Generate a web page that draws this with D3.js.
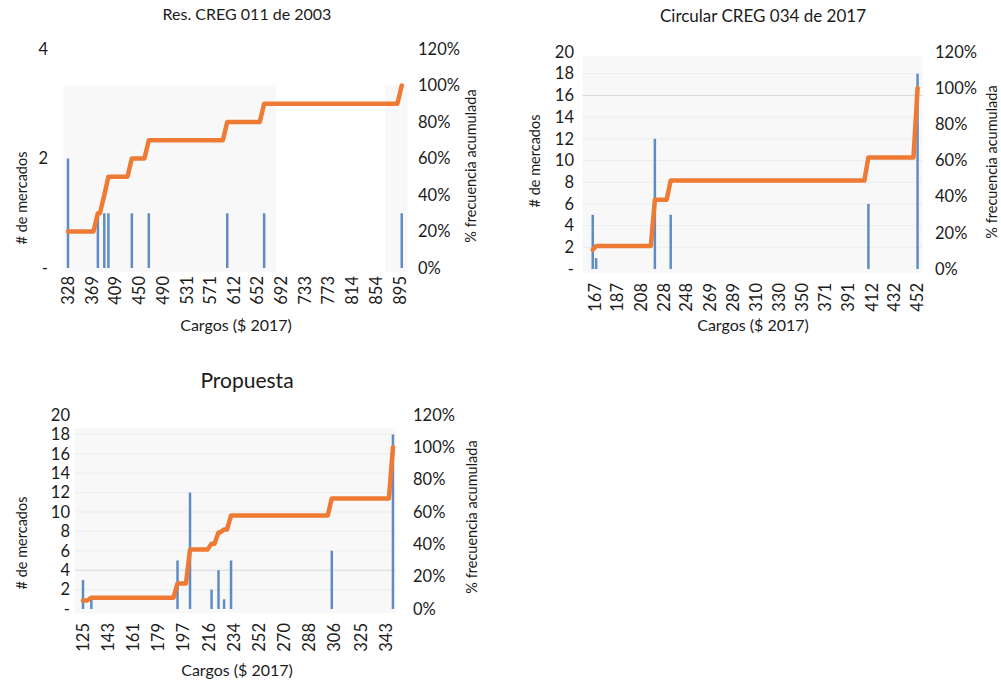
<!DOCTYPE html>
<html>
<head>
<meta charset="utf-8">
<script src="https://cdn.jsdelivr.net/npm/d3@7"></script>
<style>
  html, body { margin: 0; padding: 0; background: #fff; }
  svg { display: block; font-family: Lato, "Open Sans", sans-serif; }
</style>
</head>
<body>
<svg id="chart" width="1001" height="682"></svg>
<script>
// Res. CREG 011 de 2003
const titulo1 = "Res. CREG 011 de 2003";
const ticks1 = [328, 369, 409, 450, 490, 531, 571, 612, 652, 692, 733, 773, 814, 854, 895];
const cargos1 = [328, 379, 390, 397, 437, 466, 600, 663, 898];
const mercados1 = [2, 1, 1, 1, 1, 1, 1, 1, 1];
const ejeIzq1 = [0, 2, 4];

// Circular CREG 034 de 2017
const titulo2 = "Circular CREG 034 de 2017";
const ticks2 = [167, 187, 208, 228, 248, 269, 289, 310, 330, 350, 371, 391, 412, 432, 452];
const cargos2 = [165, 168, 220, 234, 409, 452.5];
const mercados2 = [5, 1, 12, 5, 6, 18];
const ejeIzq2 = [0, 2, 4, 6, 8, 10, 12, 14, 16, 18, 20];

// Propuesta
const titulo3 = "Propuesta";
const ticks3 = [125, 143, 161, 179, 197, 216, 234, 252, 270, 288, 306, 325, 343];
const cargos3 = [125, 131, 193, 202, 217.5, 222.5, 226.5, 231.5, 304, 348];
const mercados3 = [3, 1, 5, 12, 2, 4, 1, 5, 6, 18];
const ejeIzq3 = [0, 2, 4, 6, 8, 10, 12, 14, 16, 18, 20];

const ejeDer = [0, 0.2, 0.4, 0.6, 0.8, 1.0, 1.2];

const tituloX = "Cargos ($ 2017)";
const tituloIzq = "# de mercados";
const tituloDer = "% frecuencia acumulada";

const svg = d3.select("#chart");
const BLUE = "#5f8cc4";
const ORANGE = "#ee7a33";
const TEXT = "#1b1b1b";
const TICK_FONT = 16.5;

function drawPanel(cfg) {
  const g = svg.append("g");
  const x = d3.scaleLinear().domain([cfg.ticks[0], cfg.ticks[cfg.ticks.length - 1]]).range(cfg.xRange);
  const yL = d3.scaleLinear().domain([0, d3.max(cfg.leftTicks)]).range(cfg.yRange);
  const yR = d3.scaleLinear().domain([0, 1.2]).range(cfg.yRange);

  // faint plot wash
  cfg.wash.forEach(w => {
    g.append("rect")
      .attr("x", x(w[0])).attr("width", x(w[1]) - x(w[0]))
      .attr("y", yR(w[2])).attr("height", yR(0) - yR(w[2]) + 4)
      .attr("fill", "#f8f8f8");
  });

  // faint horizontal grid
  if (cfg.grid) {
    g.append("g").selectAll("line")
      .data(cfg.leftTicks.filter(d => d > 0 && d < d3.max(cfg.leftTicks)))
      .join("line")
      .attr("x1", x(cfg.wash[0][0])).attr("x2", x(cfg.wash[0][1]))
      .attr("y1", d => yL(d)).attr("y2", d => yL(d))
      .attr("stroke", d => d === cfg.strongGrid ? "#d4d8de" : "#ebedf0")
      .attr("stroke-width", 1);
  }

  // bars: number of markets per charge
  const bars = cfg.cargos.map((c, i) => ({ c, n: cfg.mercados[i] }));
  g.append("g").selectAll("line")
    .data(bars)
    .join("line")
    .attr("x1", d => x(d.c)).attr("x2", d => x(d.c))
    .attr("y1", yL(0)).attr("y2", d => yL(d.n))
    .attr("stroke", BLUE).attr("stroke-width", 2.5);

  // cumulative frequency line
  const total = d3.sum(cfg.mercados);
  const cum = d3.cumsum(cfg.mercados).map(v => v / total);
  const pts = [[cfg.cargos[0], cum[0]]];
  for (let i = 1; i < cfg.cargos.length; i++) {
    const start = Math.max(cfg.cargos[i - 1], cfg.cargos[i] - cfg.binWidth);
    pts.push([start, cum[i - 1]]);
    pts.push([cfg.cargos[i], cum[i]]);
  }
  g.append("path")
    .datum(pts)
    .attr("fill", "none")
    .attr("stroke", ORANGE)
    .attr("stroke-width", 4.5)
    .attr("stroke-linejoin", "round")
    .attr("stroke-linecap", "round")
    .attr("d", d3.line().x(d => x(d[0])).y(d => yR(d[1])));

  // left axis labels
  const left = d3.axisLeft(yL).tickValues(cfg.leftTicks)
    .tickFormat(d => d === 0 ? "-" : d3.format("d")(d)).tickSize(0).tickPadding(0);
  const gl = g.append("g").attr("transform", `translate(${cfg.leftLabelX},0)`).call(left);
  gl.select(".domain").remove();
  gl.selectAll("text").attr("font-size", TICK_FONT).attr("fill", TEXT).attr("font-family", "Lato");

  // right axis labels
  const right = d3.axisRight(yR).tickValues(ejeDer)
    .tickFormat(d3.format(".0%")).tickSize(0).tickPadding(0);
  const gr = g.append("g").attr("transform", `translate(${cfg.rightLabelX},0)`).call(right);
  gr.select(".domain").remove();
  gr.selectAll("text").attr("font-size", TICK_FONT).attr("fill", TEXT).attr("font-family", "Lato");

  // x axis labels, rotated
  g.append("g").selectAll("text")
    .data(cfg.ticks)
    .join("text")
    .attr("transform", d => `translate(${x(d)},${cfg.xLabelTop}) rotate(-90)`)
    .attr("text-anchor", "end")
    .attr("dy", "0.35em")
    .attr("font-size", TICK_FONT)
    .attr("fill", TEXT)
    .text(d => d);

  // titles
  g.append("text").attr("x", cfg.title[0]).attr("y", cfg.title[1])
    .attr("text-anchor", "middle").attr("dy", "0.35em")
    .attr("font-size", cfg.titleSize).attr("fill", TEXT).text(cfg.titleText);
  g.append("text").attr("x", cfg.xTitle[0]).attr("y", cfg.xTitle[1])
    .attr("text-anchor", "middle").attr("dy", "0.35em")
    .attr("font-size", 16).attr("fill", TEXT).text(tituloX);
  g.append("text")
    .attr("transform", `translate(${cfg.leftTitle[0]},${cfg.leftTitle[1]}) rotate(-90)`)
    .attr("text-anchor", "middle").attr("dy", "0.35em")
    .attr("font-size", 14.5).attr("fill", TEXT).text(tituloIzq);
  g.append("text")
    .attr("transform", `translate(${cfg.rightTitle[0]},${cfg.rightTitle[1]}) rotate(-90)`)
    .attr("text-anchor", "middle").attr("dy", "0.35em")
    .attr("font-size", 14.5).attr("fill", TEXT).text(tituloDer);
}

drawPanel({
  titleText: titulo1, titleSize: 16, ticks: ticks1, cargos: cargos1, mercados: mercados1, leftTicks: ejeIzq1,
  xRange: [68, 400], yRange: [268, 49], binWidth: 7.5,
  wash: [[320, 683, 1.0], [870, 908, 1.0]], grid: false,
  leftLabelX: 48, rightLabelX: 418, leftTitle: [22, 198], rightTitle: [471, 166],
  xLabelTop: 276, xTitle: [236, 325], title: [247, 14]
});

drawPanel({
  titleText: titulo2, titleSize: 17, ticks: ticks2, cargos: cargos2, mercados: mercados2, leftTicks: ejeIzq2,
  xRange: [595, 917], yRange: [269, 52], binWidth: 3.6,
  wash: [[156, 457, 1.18]], grid: true, strongGrid: 16,
  leftLabelX: 574, rightLabelX: 935, leftTitle: [535, 161], rightTitle: [992, 162],
  xLabelTop: 283, xTitle: [753, 325], title: [763, 16]
});

drawPanel({
  titleText: titulo3, titleSize: 21, ticks: ticks3, cargos: cargos3, mercados: mercados3, leftTicks: ejeIzq3,
  xRange: [83, 386], yRange: [609, 415], binWidth: 2.9,
  wash: [[119, 350, 1.12]], grid: true, strongGrid: 4,
  leftLabelX: 70, rightLabelX: 413, leftTitle: [22, 543], rightTitle: [472, 517],
  xLabelTop: 623, xTitle: [237, 670], title: [247, 381]
});
</script>
</body>
</html>
